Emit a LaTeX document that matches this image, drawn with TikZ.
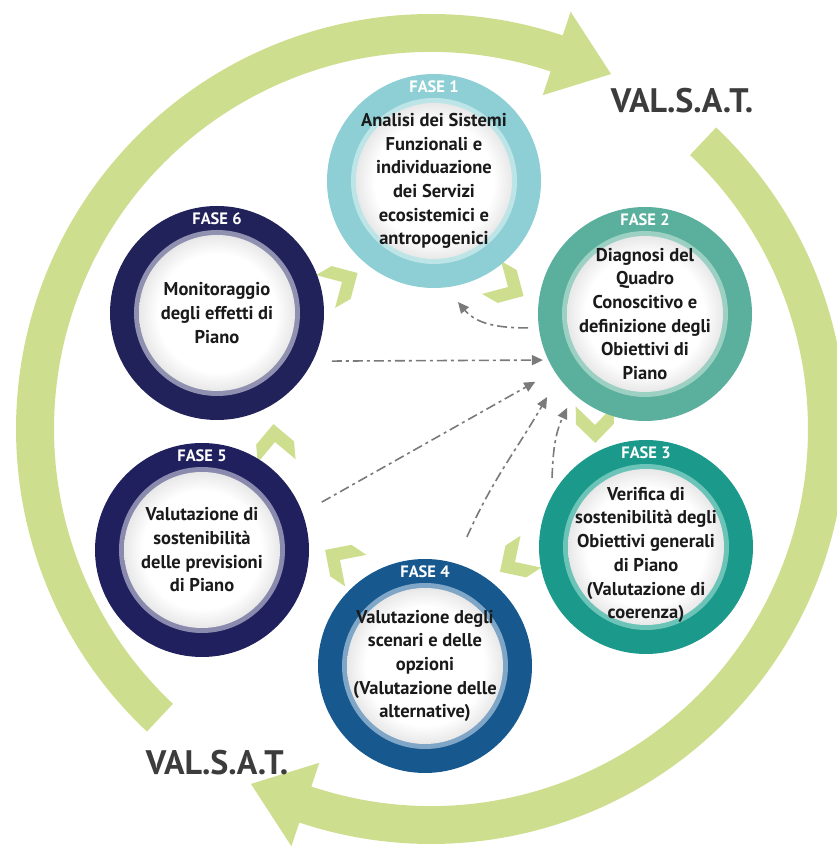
\documentclass[tikz,border=0pt]{standalone}
\usepackage{fontspec}
\setmainfont{PT Sans}
\usetikzlibrary{arrows.meta,calc}
\definecolor{valgreen}{HTML}{CEDE8F}
\definecolor{valgray}{HTML}{3C3C3C}
\definecolor{txt}{HTML}{1A1A1A}
\definecolor{linkgray}{HTML}{7A7A7A}
\definecolor{cA}{HTML}{8DCFD4}\definecolor{lA}{HTML}{BDE5E7}
\definecolor{cB}{HTML}{5BAF9D}\definecolor{lB}{HTML}{9BD0C3}
\definecolor{cC}{HTML}{1B998B}\definecolor{lC}{HTML}{6CC3B8}
\definecolor{cD}{HTML}{17598F}\definecolor{lD}{HTML}{7FA6C6}
\definecolor{cE}{HTML}{20205E}\definecolor{lE}{HTML}{8A8AAE}
\definecolor{cF}{HTML}{22225A}\definecolor{lF}{HTML}{9090B0}
\pgfdeclareradialshading{innerdisk}{\pgfpoint{0bp}{0bp}}{color(0bp)=(white); color(19bp)=(white); color(25bp)=(black!9); color(50bp)=(black!9)}
\newcommand\phasering[7]{%
  \node[phase] (#1) at #2 {};
  \fill[#3] (#1) circle[radius=107];
  \fill[#4] (#1) circle[radius=83];
  \shade[shading=innerdisk] (#1) circle[radius=78];
  \node[fase] (#1-lab) at ($(#1)+(0,94)$) {#5};
  \node[body] (#1-txt) at ($(#1)+(0,#7)$) {#6};
}
\begin{document}
\begin{tikzpicture}[x=1pt,y=1pt,
  bigarrow/.style={fill=valgreen},
  chev/.style={fill=valgreen},
  phase/.style={circle,minimum size=214pt,inner sep=0pt,outer sep=0pt},
  body/.style={align=center,font=\fontsize{18.5}{23.7}\selectfont\bfseries,text=txt,inner sep=0pt},
  fase/.style={font=\fontsize{16.5}{18}\selectfont\bfseries,text=white,inner sep=0pt},
  valsat/.style={font=\fontsize{34}{36}\selectfont\bfseries,text=valgray,inner sep=0pt},
  link/.style={draw=linkgray,line width=1.6pt,dash pattern=on 10pt off 4pt on 3pt off 4pt,-{Triangle[length=11pt,width=10pt]}}
]
\useasboundingbox (0,0) rectangle (837,846);
% big circular arrows
\begin{scope}[shift={(431,417)}]
\fill[bigarrow] (226.8:415) arc[start angle=226.8,end angle=71.5,radius=415]
  -- (71.5:440) -- (63.1:398) -- (71.5:352) -- (71.5:377)
  arc[start angle=71.5,end angle=226.8,radius=377] -- cycle;
\fill[bigarrow] (46.6:415) arc[start angle=46.6,end angle=-108.5,radius=415]
  -- (-108.5:440) -- (-116.9:398) -- (-108.5:352) -- (-108.5:377)
  arc[start angle=-108.5,end angle=46.6,radius=377] -- cycle;
\end{scope}
\node[valsat] (vs1) at (682,745) {VAL.S.A.T.};
\node[valsat] (vs2) at (217,83) {VAL.S.A.T.};
% chevrons
\foreach \px/\py/\ang in {342/564/30, 508/559/-30, 595/421/-89, 515/284/213, 340/286/146, 275/404/95}{
  \fill[chev,shift={(\px,\py)},rotate=\ang] (18,0) -- (-1,19) -- (-19,19) -- (0,0) -- (-19,-19) -- (-1,-19) -- cycle;
}
% phases
\phasering{f1}{(434,665)}{cA}{lA}{FASE 1}{Analisi dei Sistemi\\Funzionali e\\individuazione\\dei Servizi\\ecosistemici e\\antropogenici}{0}
\phasering{f2}{(645,532)}{cB}{lB}{FASE 2}{Diagnosi del\\Quadro\\Conoscitivo e\\definizione degli\\Obiettivi di\\Piano}{0}
\phasering{f3}{(646,299)}{cC}{lC}{FASE 3}{Verifica di\\sostenibilità degli\\Obiettivi generali\\di Piano\\(Valutazione di\\coerenza)}{-8}
\phasering{f4}{(425,180)}{cD}{lD}{FASE 4}{Valutazione degli\\scenari e delle\\opzioni\\(Valutazione delle\\alternative)}{0}
\phasering{f5}{(202,296)}{cE}{lE}{FASE 5}{Valutazione di\\sostenibilità\\delle previsioni\\di Piano}{0}
\phasering{f6}{(217,533)}{cF}{lF}{FASE 6}{Monitoraggio\\degli effetti di\\Piano}{0}
% dashed links
\coordinate (l1s) at ($(f2)+(186.8:117.8)$);
\coordinate (l1e) at ($(f1)+(-78.8:123.4)$);
\coordinate (l2s) at ($(f6)+(-22.7:124.6)$);
\coordinate (l2e) at ($(f2)+(204.3:112)$);
\coordinate (l3s) at ($(f5)+(21.8:129)$);
\coordinate (l3e) at ($(f2)+(211.7:129)$);
\coordinate (l4s) at ($(f4)+(72:135.7)$);
\coordinate (l4e) at ($(f2)+(220.3:128.4)$);
\coordinate (l5s) at ($(f3)+(143.7:116.6)$);
\coordinate (l5e) at ($(f2)+(230.3:122)$);
\draw[link] (l1s) to[out=180,in=-50] (l1e);
\draw[link] (l2s) -- (l2e);
\draw[link] (l3s) -- (l3e);
\draw[link] (l4s) to[out=66,in=240] (l4e);
\draw[link] (l5s) to[out=88,in=245] (l5e);
\end{tikzpicture}
\end{document}
